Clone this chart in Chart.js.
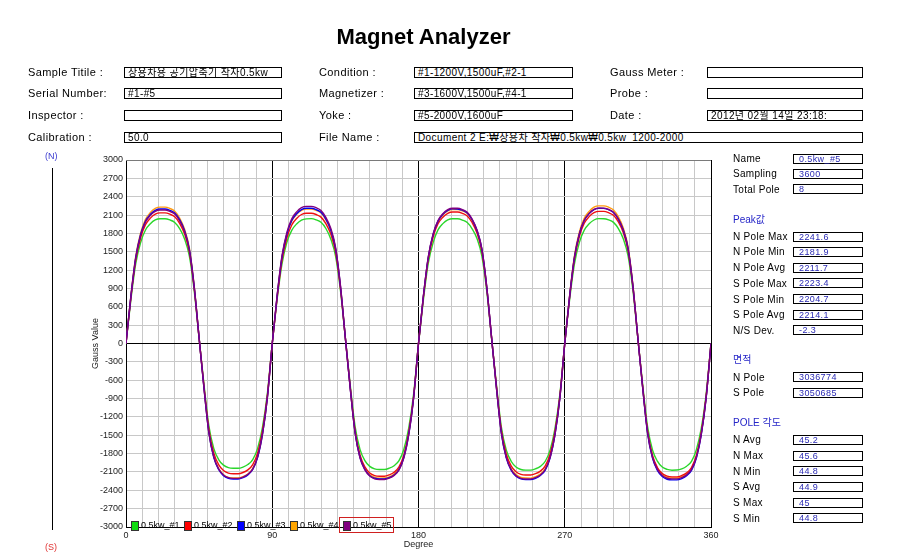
<!DOCTYPE html>
<html>
<head>
<meta charset="utf-8">
<script src="https://cdn.jsdelivr.net/npm/chart.js@4.4.1/dist/chart.umd.min.js"></script>
<style>
html,body{margin:0;padding:0;background:#fff;}
body{width:912px;height:558px;position:relative;overflow:hidden;}
#c{position:absolute;left:0;top:0;}
.ttl{position:absolute;left:0;width:847px;top:24px;text-align:center;font:bold 22px/26px "Liberation Sans",Arial,sans-serif;color:#000;}
.lb{position:absolute;font:11px/12px "Liberation Sans","Noto Sans CJK KR",sans-serif;letter-spacing:0.4px;white-space:nowrap;color:#000;}
.bx{position:absolute;box-sizing:border-box;border:1px solid #000;height:11px;padding:0 0 0 3px;font:10px/9px "Liberation Sans","Noto Sans CJK KR",sans-serif;letter-spacing:0.4px;white-space:nowrap;color:#000;background:#fff;}
.rl{position:absolute;left:733px;font:10px/11px "Liberation Sans","Noto Sans CJK KR",sans-serif;letter-spacing:0.3px;white-space:nowrap;color:#000;}
.rh{position:absolute;left:733px;font:10px/11px "Liberation Sans","Noto Sans CJK KR",sans-serif;white-space:nowrap;color:#2626c8;}
.rb{position:absolute;left:793px;width:70px;box-sizing:border-box;border:1px solid #000;height:10px;padding:0 0 0 5px;font:9px/8px "Liberation Sans","Noto Sans CJK KR",sans-serif;letter-spacing:0.4px;white-space:nowrap;color:#2a2ab4;background:#fff;}
.sm{position:absolute;font:9px/10px "Liberation Sans",sans-serif;white-space:nowrap;}
</style>
</head>
<body>
<canvas id="c" width="912" height="558"></canvas>

<div class="ttl">Magnet Analyzer</div>

<div class="lb" style="left:28px;top:66px;">Sample Titile :</div>
<div class="bx" style="left:124px;top:67px;width:158px;">상용차용 공기압축기 착자0.5kw</div>
<div class="lb" style="left:28px;top:87px;">Serial Number:</div>
<div class="bx" style="left:124px;top:88px;width:158px;">#1-#5</div>
<div class="lb" style="left:28px;top:109px;">Inspector :</div>
<div class="bx" style="left:124px;top:110px;width:158px;"></div>
<div class="lb" style="left:28px;top:131px;">Calibration :</div>
<div class="bx" style="left:124px;top:132px;width:158px;">50.0</div>

<div class="lb" style="left:319px;top:66px;">Condition :</div>
<div class="bx" style="left:414px;top:67px;width:159px;">#1-1200V,1500uF,#2-1</div>
<div class="lb" style="left:319px;top:87px;">Magnetizer :</div>
<div class="bx" style="left:414px;top:88px;width:159px;">#3-1600V,1500uF,#4-1</div>
<div class="lb" style="left:319px;top:109px;">Yoke :</div>
<div class="bx" style="left:414px;top:110px;width:159px;">#5-2000V,1600uF</div>
<div class="lb" style="left:319px;top:131px;">File Name :</div>
<div class="bx" style="left:414px;top:132px;width:449px;">Document 2 E:₩상용차 착자₩0.5kw₩0.5kw_1200-2000</div>

<div class="lb" style="left:610px;top:66px;">Gauss Meter :</div>
<div class="bx" style="left:707px;top:67px;width:156px;"></div>
<div class="lb" style="left:610px;top:87px;">Probe :</div>
<div class="bx" style="left:707px;top:88px;width:156px;"></div>
<div class="lb" style="left:610px;top:109px;">Date :</div>
<div class="bx" style="left:707px;top:110px;width:156px;">2012년 02월 14일 23:18:</div>

<div class="rl" style="top:153px;">Name</div><div class="rb" style="top:154px;">0.5kw_#5</div>
<div class="rl" style="top:168px;">Sampling</div><div class="rb" style="top:169px;">3600</div>
<div class="rl" style="top:184px;">Total Pole</div><div class="rb" style="top:184px;">8</div>
<div class="rh" style="top:214px;">Peak값</div>
<div class="rl" style="top:231px;">N Pole Max</div><div class="rb" style="top:232px;">2241.6</div>
<div class="rl" style="top:246px;">N Pole Min</div><div class="rb" style="top:247px;">2181.9</div>
<div class="rl" style="top:262px;">N Pole Avg</div><div class="rb" style="top:263px;">2211.7</div>
<div class="rl" style="top:278px;">S Pole Max</div><div class="rb" style="top:278px;">2223.4</div>
<div class="rl" style="top:294px;">S Pole Min</div><div class="rb" style="top:294px;">2204.7</div>
<div class="rl" style="top:309px;">S Pole Avg</div><div class="rb" style="top:310px;">2214.1</div>
<div class="rl" style="top:325px;">N/S Dev.</div><div class="rb" style="top:325px;">-2.3</div>
<div class="rh" style="top:354px;">면적</div>
<div class="rl" style="top:372px;">N Pole</div><div class="rb" style="top:372px;">3036774</div>
<div class="rl" style="top:387px;">S Pole</div><div class="rb" style="top:388px;">3050685</div>
<div class="rh" style="top:417px;">POLE 각도</div>
<div class="rl" style="top:434px;">N Avg</div><div class="rb" style="top:435px;">45.2</div>
<div class="rl" style="top:450px;">N Max</div><div class="rb" style="top:451px;">45.6</div>
<div class="rl" style="top:466px;">N Min</div><div class="rb" style="top:466px;">44.8</div>
<div class="rl" style="top:481px;">S Avg</div><div class="rb" style="top:482px;">44.9</div>
<div class="rl" style="top:497px;">S Max</div><div class="rb" style="top:498px;">45</div>
<div class="rl" style="top:513px;">S Min</div><div class="rb" style="top:513px;">44.8</div>

<div class="sm" style="left:45px;top:151px;color:#3a3ad0;">(N)</div>
<div style="position:absolute;left:52px;top:168px;width:1px;height:362px;background:#000;"></div>
<div class="sm" style="left:45px;top:542px;color:#e03030;">(S)</div>

<script>
const degrees = [0,3,6,9,12,15,18,21,24,27,30,33,36,39,42,45,48,51,54,57,60,63,66,69,72,75,78,81,84,87,90,
93,96,99,102,105,108,111,114,117,120,123,126,129,132,135,138,141,144,147,150,153,156,159,162,165,168,171,174,177,180,
183,186,189,192,195,198,201,204,207,210,213,216,219,222,225,228,231,234,237,240,243,246,249,252,255,258,261,264,267,270,
273,276,279,282,285,288,291,294,297,300,303,306,309,312,315,318,321,324,327,330,333,336,339,342,345,348,351,354,357,360];

const seriesNames = ["0.5kw_#1","0.5kw_#2","0.5kw_#3","0.5kw_#4","0.5kw_#5"];

const s1 = [0,714,1306,1652,1856,1958,2020,2040,2040,2020,1979,1877,1714,1428,857,82,
-673,-1346,-1714,-1897,-1989,-2030,-2040,-2040,-2020,-1979,-1897,-1714,-1367,-816,0,
720,1300,1655,1850,1955,2018,2038,2041,2022,1982,1880,1710,1425,860,85,
-680,-1360,-1730,-1916,-2009,-2050,-2060,-2060,-2039,-1998,-1916,-1730,-1380,-824,0,
710,1310,1650,1858,1960,2022,2040,2039,2018,1978,1875,1716,1430,855,80,
-683,-1366,-1739,-1925,-2018,-2060,-2070,-2070,-2049,-2008,-1925,-1739,-1387,-828,0,
716,1304,1654,1854,1957,2019,2041,2040,2021,1980,1878,1712,1427,858,84,
-685,-1364,-1741,-1923,-2020,-2058,-2071,-2069,-2050,-2006,-1927,-1737,-1389,-826,0];

const s2 = [0,747,1366,1729,1943,2050,2114,2135,2135,2114,2071,1964,1793,1495,897,85,
-703,-1406,-1789,-1981,-2077,-2119,-2130,-2130,-2109,-2066,-1981,-1789,-1427,-852,0,
746,1363,1725,1938,2045,2109,2130,2130,2109,2066,1960,1789,1491,895,85,
-716,-1432,-1823,-2018,-2116,-2159,-2170,-2170,-2148,-2105,-2018,-1823,-1454,-868,0,
753,1376,1742,1957,2064,2129,2150,2150,2129,2086,1978,1806,1505,903,86,
-710,-1419,-1806,-2000,-2096,-2139,-2150,-2150,-2129,-2086,-2000,-1806,-1441,-860,0,
756,1382,1750,1966,2074,2138,2160,2160,2138,2095,1987,1814,1512,907,86,
-719,-1439,-1831,-2027,-2126,-2169,-2180,-2180,-2158,-2115,-2027,-1831,-1461,-872,0];

const s3 = [0,770,1408,1782,2002,2112,2178,2200,2200,2178,2134,2024,1848,1540,924,88,
-731,-1462,-1861,-2060,-2160,-2204,-2215,-2215,-2193,-2149,-2060,-1861,-1484,-886,0,
774,1414,1790,2011,2122,2188,2210,2210,2188,2144,2033,1856,1547,928,88,
-733,-1460,-1863,-2058,-2162,-2203,-2216,-2214,-2194,-2150,-2061,-1859,-1486,-884,0,
772,1406,1784,2000,2114,2176,2201,2199,2179,2133,2026,1846,1542,922,87,
-734,-1469,-1869,-2069,-2169,-2214,-2225,-2225,-2203,-2158,-2069,-1869,-1491,-890,0,
775,1413,1791,2010,2123,2187,2211,2209,2189,2143,2034,1855,1548,927,89,
-736,-1472,-1873,-2074,-2174,-2219,-2230,-2230,-2208,-2163,-2074,-1873,-1494,-892,0];

const s4 = [0,781,1427,1806,2029,2141,2208,2230,2230,2208,2163,2052,1873,1561,937,89,
-726,-1452,-1848,-2046,-2145,-2189,-2200,-2200,-2178,-2134,-2046,-1848,-1474,-880,0,
770,1408,1782,2002,2112,2178,2200,2200,2178,2134,2024,1848,1540,924,88,
-727,-1450,-1849,-2045,-2146,-2188,-2201,-2199,-2179,-2133,-2047,-1847,-1475,-879,0,
767,1402,1774,1993,2102,2168,2190,2190,2168,2124,2015,1840,1533,920,88,
-725,-1453,-1847,-2047,-2144,-2190,-2200,-2201,-2177,-2135,-2045,-1849,-1473,-881,0,
788,1440,1823,2048,2160,2228,2250,2250,2228,2183,2070,1890,1575,945,90,
-726,-1452,-1848,-2046,-2145,-2189,-2200,-2200,-2178,-2134,-2046,-1848,-1474,-880,0];

const s5 = [0,764,1396,1767,1986,2095,2160,2182,2182,2160,2117,2007,1833,1527,916,87,
-728,-1455,-1852,-2051,-2150,-2194,-2205,-2205,-2183,-2139,-2051,-1852,-1477,-882,0,
785,1435,1816,2040,2152,2220,2242,2242,2220,2175,2063,1883,1569,942,90,
-734,-1467,-1867,-2067,-2167,-2212,-2223,-2223,-2201,-2156,-2067,-1867,-1489,-889,0,
774,1414,1790,2011,2122,2188,2210,2210,2188,2144,2033,1856,1547,928,88,
-731,-1462,-1861,-2060,-2160,-2204,-2215,-2215,-2193,-2149,-2060,-1861,-1484,-886,0,
775,1416,1793,2014,2124,2191,2213,2213,2191,2147,2036,1859,1549,929,89,
-731,-1461,-1860,-2059,-2159,-2203,-2214,-2214,-2192,-2148,-2059,-1860,-1483,-886,0];

const yTickStep = 300;
const xMajorLabels = [0, 90, 180, 270, 360];

const lineColors = ['#2ad62a', '#ee1010', '#0000f0', '#ff9a10', '#800080'];
const legendColors = ['#11dd11', '#ff0000', '#0000ff', '#ffa500', '#800080'];
const drawOrder = [4, 2, 1, 3, 0];
const allSeries = [s1, s2, s3, s4, s5];

const datasets = allSeries.map((vals, i) => ({
  label: seriesNames[i],
  data: vals.map((v, k) => ({x: degrees[k], y: v})),
  borderColor: lineColors[i],
  backgroundColor: legendColors[i],
  borderWidth: 1.4,
  pointRadius: 0,
  fill: false,
  cubicInterpolationMode: 'monotone',
  order: drawOrder[i]
}));

const framePlugin = {
  id: 'frameLegend',
  afterDatasetsDraw(chart) {
    const {ctx, chartArea: a} = chart;
    ctx.save();
    ctx.lineWidth = 1;
    ctx.strokeStyle = '#7a7a7a';
    ctx.beginPath(); ctx.moveTo(a.left, Math.round(a.top) + 0.5); ctx.lineTo(a.right, Math.round(a.top) + 0.5); ctx.stroke();
    ctx.strokeStyle = '#000';
    ctx.beginPath(); ctx.moveTo(Math.round(a.right) + 0.5, a.top); ctx.lineTo(Math.round(a.right) + 0.5, a.bottom); ctx.stroke();
    ctx.font = '9px "Liberation Sans", Arial, sans-serif';
    ctx.textBaseline = 'alphabetic';
    ctx.textAlign = 'left';
    chart.data.datasets.forEach((ds, i) => {
      const x0 = a.left + 5 + i * 53;
      const y0 = a.bottom - 6;
      ctx.fillStyle = ds.backgroundColor;
      ctx.fillRect(x0, y0, 8, 10);
      ctx.strokeStyle = '#333';
      ctx.strokeRect(x0 + 0.5, y0 + 0.5, 7, 9);
      ctx.fillStyle = '#000';
      ctx.fillText(ds.label, x0 + 10, a.bottom + 0.5);
      if (i === chart.data.datasets.length - 1) {
        ctx.strokeStyle = '#d02020';
        ctx.strokeRect(x0 - 3.5, y0 - 3.5, 54, 15);
      }
    });
    ctx.restore();
  }
};

new Chart(document.getElementById('c'), {
  type: 'line',
  data: { datasets },
  options: {
    responsive: false,
    animation: false,
    devicePixelRatio: 1,
    layout: { padding: { left: 90, right: 201, top: 160, bottom: 0 } },
    plugins: { legend: { display: false }, tooltip: { enabled: false } },
    scales: {
      x: {
        type: 'linear', min: 0, max: 360,
        afterFit: (s) => { s.height = 31; },
        ticks: {
          stepSize: 10, autoSkip: false, maxRotation: 0, padding: 3,
          color: '#222', font: { size: 9, family: '"Liberation Sans", Arial, sans-serif' },
          callback: (v) => xMajorLabels.includes(v) ? String(v) : ''
        },
        grid: {
          drawTicks: false,
          color: (c) => (c.tick && c.tick.value % 90 === 0 && c.tick.value > 0 && c.tick.value < 360) ? '#000' : '#c8c8c8',
          lineWidth: 1
        },
        border: { display: true, color: '#000', width: 1 },
        title: { display: true, text: 'Degree', color: '#222', padding: { top: 0, bottom: 8 }, font: { size: 9, family: '"Liberation Sans", Arial, sans-serif' } }
      },
      y: {
        min: -3000, max: 3000,
        afterFit: (s) => { s.width = 36; },
        ticks: {
          stepSize: yTickStep, autoSkip: false, padding: 3,
          color: '#222', font: { size: 9, family: '"Liberation Sans", Arial, sans-serif' },
          callback: (v) => String(v)
        },
        grid: {
          drawTicks: false,
          color: (c) => (c.tick && c.tick.value === 0) ? '#000' : '#c8c8c8',
          lineWidth: 1
        },
        border: { display: true, color: '#000', width: 1 },
        title: { display: true, text: 'Gauss Value', color: '#222', padding: { top: 0, bottom: 0 }, font: { size: 9, family: '"Liberation Sans", Arial, sans-serif' } }
      }
    }
  },
  plugins: [framePlugin]
});
</script>
</body>
</html>
